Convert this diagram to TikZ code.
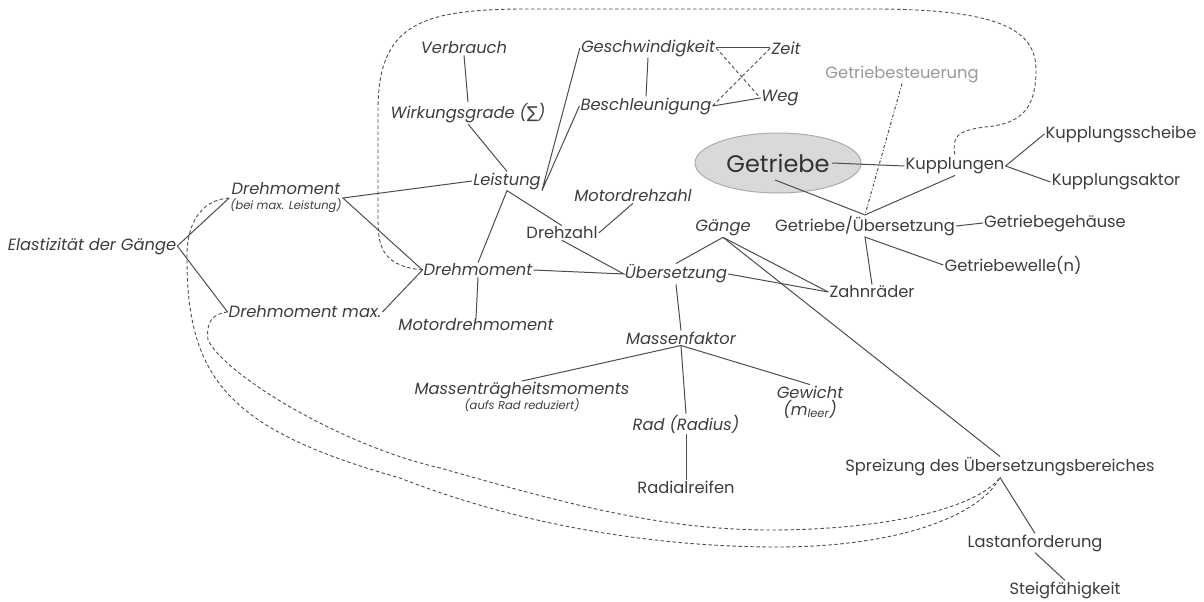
\documentclass[tikz,border=0pt]{standalone}
\usepackage{fontspec}
\setmainfont{Poppins}
\newfontfamily\symfont{DejaVu Sans}
\usetikzlibrary{shapes.geometric}

\definecolor{schrift}{HTML}{3d3d3d}
\definecolor{linie}{HTML}{4d4d4d}
\definecolor{hell}{HTML}{999999}

\begin{document}
\begin{tikzpicture}[x=1pt,y=-1pt,
    begriff/.style={text=schrift,font=\fontsize{16.3}{18}\selectfont,inner sep=1pt,align=center},
    kursiv/.style={begriff,font=\fontsize{16.3}{18}\selectfont\itshape},
    verb/.style={draw=linie,line width=1pt},
    bezug/.style={verb,line width=0.9pt,dash pattern=on 3.5pt off 2.5pt}]
\useasboundingbox (0,0) rectangle (1204,602);

% Motor / Fahrleistung
\node[kursiv] (elast) at (92,246) {Elastizität der Gänge};
\node[kursiv] (drmA) at (286,198) {Drehmoment\\[-3pt]{\fontsize{11.5}{12}\selectfont(bei max. Leistung)}};
\node[kursiv] (drmMax) at (305,312) {Drehmoment max.};
\node[kursiv] (drmB) at (478,270) {Drehmoment};
\node[kursiv] (motdm) at (476,325) {Motordrehmoment};
\node[kursiv] (leist) at (507,181) {Leistung};
\node[kursiv] (verbr) at (464,48) {Verbrauch};
\node[kursiv] (wirk) at (468,113) {Wirkungsgrade ({\symfont\itshape ∑})};
\node[kursiv] (geschw) at (648,48) {Geschwindigkeit};
\node[kursiv] (beschl) at (646,106) {Beschleunigung};
\node[kursiv] (zeit) at (786,48) {Zeit};
\node[kursiv] (weg) at (780,98) {Weg};
\node[kursiv] (motdz) at (633,196) {Motordrehzahl};
\node[begriff] (drehz) at (562,233) {Drehzahl};
\node[kursiv] (gaenge) at (723,228) {Gänge};
\node[kursiv] (uebers) at (676,274) {Übersetzung};
\node[kursiv] (massf) at (681,338) {Massenfaktor};
\node[kursiv] (mtm) at (522,397) {Massenträgheitsmoments\\[-3pt]{\fontsize{11.5}{12}\selectfont(aufs Rad reduziert)}};
\node[kursiv] (gew) at (810,402) {Gewicht\\[-1pt](m\textsubscript{leer})};
\node[kursiv] (rad) at (686,424) {Rad (Radius)};
\node[begriff] (radial) at (686,487) {Radialreifen};

% Getriebe
\node[begriff,ellipse,fill=black!15,draw=black!33,line width=1pt,minimum width=166pt,minimum height=60pt,
  font=\fontsize{24}{26}\selectfont,text=black!80] (getr) at (778,163) {Getriebe};
\node[begriff,text=hell] (gsteu) at (902,74) {Getriebesteuerung};
\node[begriff] (kuppl) at (955,166) {Kupplungen};
\node[begriff] (kscheibe) at (1121,134) {Kupplungsscheibe};
\node[begriff] (kaktor) at (1116,182) {Kupplungsaktor};
\node[begriff] (gue) at (865,226) {Getriebe/Übersetzung};
\node[begriff] (gehaeuse) at (1055,223) {Getriebegehäuse};
\node[begriff] (welle) at (1013,265) {Getriebewelle(n)};
\node[begriff] (zahn) at (872,292) {Zahnräder};
\node[begriff] (spreiz) at (1000,467) {Spreizung des Übersetzungsbereiches};
\node[begriff] (last) at (1035,543) {Lastanforderung};
\node[begriff] (steig) at (1065,590) {Steigfähigkeit};

% Verbindungen
\draw[verb] (drmA.west) -- (elast.east) -- (drmMax.west);
\draw[verb] (leist.west) -- (drmA.east) -- (drmB.west) -- (drmMax.east);
\draw[verb] (drmB.south) -- (motdm.north);
\draw[verb] (verbr.south) -- (wirk.north);
\draw[verb] (wirk.south) -- (leist.north);
\draw[verb] (geschw.west) -- (leist.south east) -- (beschl.west);
\draw[verb] (drmB.north) -- (leist.south) -- (drehz.north);
\draw[verb] (geschw.south) -- (beschl.north);
\draw[verb] (geschw.east) -- (zeit.west);
\draw[verb] (beschl.east) -- (weg.west);
\draw[bezug] (geschw.east) -- (weg.west);
\draw[bezug] (beschl.east) -- (zeit.west);
\draw[verb] (motdz.south) -- (drehz.east);
\draw[verb] (drehz.south) -- (uebers.west) -- (drmB.east);
\draw[verb] (uebers.north) -- (gaenge.south) -- (zahn.west);
\draw[verb] (gaenge.south) -- (spreiz.north);
\draw[verb] (uebers.east) -- (zahn.west);
\draw[verb] (uebers.south) -- (massf.north);
\draw[verb] (mtm.north) -- (massf.south) -- (gew.north);
\draw[verb] (massf.south) -- (rad.north);
\draw[verb] (rad.south) -- (radial.north);

\draw[verb] ([xshift=54pt]getr.center) -- (kuppl.west);
\draw[verb] ([xshift=-3pt,yshift=-17pt]getr.center) -- (gue.north) -- (kuppl.south);
\draw[verb,dash pattern=on 3pt off 2pt on 1pt off 2pt] (gsteu.south) -- (gue.north);
\draw[verb] (kscheibe.west) -- (kuppl.east) -- (kaktor.west);
\draw[verb] (gue.east) -- (gehaeuse.west);
\draw[verb] (welle.west) -- (gue.south) -- (zahn.north);
\draw[verb] (spreiz.south) -- (last.north);
\draw[verb] (last.south) -- (steig.north);

% Querbezuege
\draw[bezug] (drmB.west) .. controls (385,266) and (378,250) .. (378,220) -- (378,110)
  .. controls (378,25) and (420,10) .. (520,9) -- (880,9)
  .. controls (1000,10) and (1036,30) .. (1036,70)
  .. controls (1036,110) and (1020,124) .. (985,127)
  .. controls (952,131) and (953,140) .. (kuppl.north);
\draw[bezug] (drmA.west) .. controls (200,200) and (187,225) .. (187,255)
  .. controls (186,380) and (230,430) .. (400,478)
  .. controls (520,525) and (650,546) .. (770,547)
  .. controls (900,548) and (980,515) .. (spreiz.south);
\draw[bezug] (drmMax.west) .. controls (212,314) and (206,322) .. (208,340)
  .. controls (225,375) and (340,445) .. (440,468)
  .. controls (560,502) and (660,530) .. (770,530)
  .. controls (880,530) and (975,510) .. (spreiz.south);
\end{tikzpicture}
\end{document}
